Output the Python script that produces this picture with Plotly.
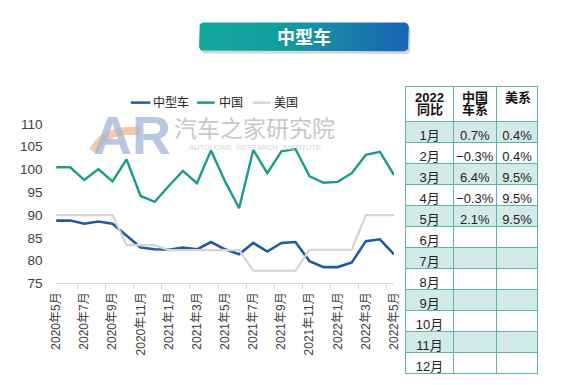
import math
import plotly.graph_objects as go

W, H = 562, 385

months = ["2020年5月", "2020年6月", "2020年7月", "2020年8月", "2020年9月", "2020年10月",
          "2020年11月", "2020年12月", "2021年1月", "2021年2月", "2021年3月", "2021年4月",
          "2021年5月", "2021年6月", "2021年7月", "2021年8月", "2021年9月", "2021年10月",
          "2021年11月", "2021年12月", "2022年1月", "2022年2月", "2022年3月", "2022年4月",
          "2022年5月"]
tick_months = months[::2]

mid_car = [88.8, 88.8, 88.1, 88.6, 88.1, 85.4, 82.9, 82.5, 82.4, 82.9, 82.5, 84.1, 82.5,
           81.4, 83.9, 82.0, 83.9, 84.1, 79.9, 78.6, 78.6, 79.6, 84.3, 84.7, 81.4]
china = [100.5, 100.5, 97.7, 100.1, 97.4, 102.2, 94.2, 92.9, 96.4, 99.7, 97.0, 104.2, 97.4,
         91.5, 104.3, 99.2, 104.0, 104.5, 98.5, 97.1, 97.3, 99.2, 103.2, 103.9, 98.8]
usa = [90.0, 90.0, 90.0, 90.0, 90.0, 83.4, 83.4, 83.4, 82.3, 82.3, 82.3, 82.3, 82.3,
       82.3, 77.8, 77.8, 77.8, 77.8, 82.4, 82.4, 82.4, 82.4, 90.0, 90.0, 90.0]

series_names = ["中型车", "中国", "美国"]
series_colors = ["#1f5c9f", "#1b9b8c", "#d4d4d4"]
y_ticks = [75, 80, 85, 90, 95, 100, 105, 110]

title_text = "中型车"
table_header = [["2022", "同比"], ["中国", "车系"], ["美系"]]
table_months = ["1月", "2月", "3月", "4月", "5月", "6月", "7月", "8月", "9月", "10月", "11月", "12月"]
cn_yoy = ["0.7%", "−0.3%", "6.4%", "−0.3%", "2.1%", "", "", "", "", "", "", ""]
us_yoy = ["0.4%", "0.4%", "9.5%", "9.5%", "9.5%", "", "", "", "", "", "", ""]

FONT = "Liberation Sans, Arial, Noto Sans CJK SC, sans-serif"


def px_x(v):
    return v / W


def px_y(v):
    return 1 - v / H


def rounded_rect(x0, y0, x1, y1, r, n=6):
    pts = []
    corners = [(x1 - r, y0 + r, -90, 0), (x1 - r, y1 - r, 0, 90),
               (x0 + r, y1 - r, 90, 180), (x0 + r, y0 + r, 180, 270)]
    for cx, cy, a0, a1 in corners:
        for k in range(n + 1):
            a = math.radians(a0 + (a1 - a0) * k / n)
            pts.append((cx + r * math.cos(a), cy + r * math.sin(a)))
    pts.append(pts[0])
    return [p[0] for p in pts], [p[1] for p in pts]


fig = go.Figure()

# main lines
for name, vals, col, wd in zip(series_names, [mid_car, china, usa], series_colors, [2.6, 2.4, 2.2]):
    fig.add_trace(go.Scatter(x=months, y=vals, mode="lines", name=name,
                             line=dict(color=col, width=wd), xaxis="x", yaxis="y",
                             hoverinfo="skip"))

# Decorations on a pixel overlay axis
sx, sy = rounded_rect(199, 19, 414, 49, 5)
fig.add_trace(go.Scatter(x=sx, y=sy, mode="lines", fill="toself", fillcolor="rgba(0,0,0,0.16)",
                         line=dict(width=0), xaxis="x2", yaxis="y2", hoverinfo="skip",
                         showlegend=False))
bx, by = rounded_rect(197, 16, 412, 46, 5)
fig.add_trace(go.Scatter(x=bx, y=by, mode="lines", fill="toself",
                         fillgradient=dict(type="horizontal",
                                           colorscale=[[0, "#11a99c"], [0.45, "#14999f"], [1, "#1a62b5"]]),
                         line=dict(width=0), xaxis="x2", yaxis="y2", hoverinfo="skip",
                         showlegend=False))

# table
TX0, TX1 = 409, 545
col_w = [49, 44, 43]
row_fill = ["#d3ebe8" if i % 2 == 0 else "#ffffff" for i in range(len(table_months))]
fig.add_trace(go.Table(
    domain=dict(x=[px_x(TX0), px_x(TX1)], y=[0, px_y(83)]),
    columnwidth=col_w,
    header=dict(values=["", "", ""],
                fill=dict(color="#ffffff"),
                line=dict(color="#5ab4ab", width=1),
                height=35),
    cells=dict(values=[table_months, cn_yoy, us_yoy],
               align="center",
               font=dict(family=FONT, size=13, color="#222222"),
               fill=dict(color=[row_fill, row_fill, row_fill]),
               line=dict(color="#5ab4ab", width=1),
               height=21),
))

shapes = []
annotations = []

# table header texts
tw = TX1 - TX0
cum = [TX0]
for w in col_w:
    cum.append(cum[-1] + w / sum(col_w) * tw)
for ci, lines in enumerate(table_header):
    for li, t in enumerate(lines):
        if ci == 0:
            ax, anc = (cum[0] + cum[1]) / 2, "center"
        else:
            ax, anc = cum[ci] + 6.5, "left"
        annotations.append(dict(x=ax, y=94 + 13 * li, xref="x2", yref="y2",
                                text="<b>%s</b>" % t, showarrow=False, xanchor=anc,
                                yanchor="middle",
                                font=dict(family=FONT, size=13, color="#111111")))

# title text
annotations.append(dict(x=305, y=31.5, xref="x2", yref="y2", text="<b>%s</b>" % title_text,
                        showarrow=False, font=dict(family=FONT, size=18, color="#ffffff")))

# watermark
annotations.append(dict(x=128, y=133, xref="x2", yref="y2", text="<b>AR</b>", showarrow=False,
                        font=dict(family=FONT, size=54, color="rgba(160,182,218,0.75)")))
shapes.append(dict(type="path", xref="x2", yref="y2", path="M 88 150 Q 100 126 136 129",
                   line=dict(color="rgba(246,192,148,0.85)", width=8), layer="above"))
annotations.append(dict(x=254, y=125, xref="x2", yref="y2", text="汽车之家研究院", showarrow=False,
                        font=dict(family="Noto Sans CJK SC, sans-serif", size=23, color="#c8c8c8")))
annotations.append(dict(x=254, y=146, xref="x2", yref="y2", text="AUTOHOME  RESEARCH  INSTITUTE",
                        showarrow=False,
                        font=dict(family=FONT, size=7.5, color="#d6d6d6")))

# legend
legend_pos = [(127, 147, 148), (195, 213, 215), (252, 270, 272)]
for (lx0, lx1, tx), name, col in zip(legend_pos, series_names, series_colors):
    shapes.append(dict(type="line", xref="x2", yref="y2", x0=lx0, x1=lx1, y0=99.5, y1=99.5,
                       line=dict(color=col, width=2.5)))
    annotations.append(dict(x=tx, y=99.5, xref="x2", yref="y2", text=name, showarrow=False,
                            xanchor="left", yanchor="middle",
                            font=dict(family=FONT, size=12, color="#222222")))

fig.update_layout(
    width=W, height=H, autosize=False,
    margin=dict(l=0, r=0, t=0, b=0),
    paper_bgcolor="#ffffff", plot_bgcolor="rgba(0,0,0,0)",
    showlegend=False,
    font=dict(family=FONT),
    xaxis=dict(domain=[px_x(50.4), px_x(396.9)], type="category",
               categoryorder="array", categoryarray=months,
               tickmode="array", tickvals=tick_months, ticktext=tick_months,
               tickson="boundaries", ticks="outside", ticklen=5, tickcolor="#d9d9d9",
               ticklabelstandoff=3,
               showline=True, linecolor="#d9d9d9", linewidth=1, showgrid=False,
               tickangle=-90, tickfont=dict(family=FONT, size=12, color="#404040"),
               anchor="y", fixedrange=True),
    yaxis=dict(domain=[px_y(287.7), px_y(121.7)], range=[75, 110],
               tickmode="array", tickvals=y_ticks, showgrid=False, zeroline=False,
               showline=False, ticks="outside", ticklen=10, tickcolor="rgba(0,0,0,0)",
               tickfont=dict(family=FONT, size=13.5, color="#404040"),
               anchor="x", fixedrange=True),
    xaxis2=dict(domain=[0, 1], range=[0, W], visible=False, anchor="y2", fixedrange=True),
    yaxis2=dict(domain=[0, 1], range=[H, 0], visible=False, anchor="x2", fixedrange=True),
    shapes=shapes,
    annotations=annotations,
)

fig.write_html("out.html", config={"displayModeBar": False, "staticPlot": True},
               post_script="document.body.style.margin='0px';document.body.style.overflow='hidden';")
